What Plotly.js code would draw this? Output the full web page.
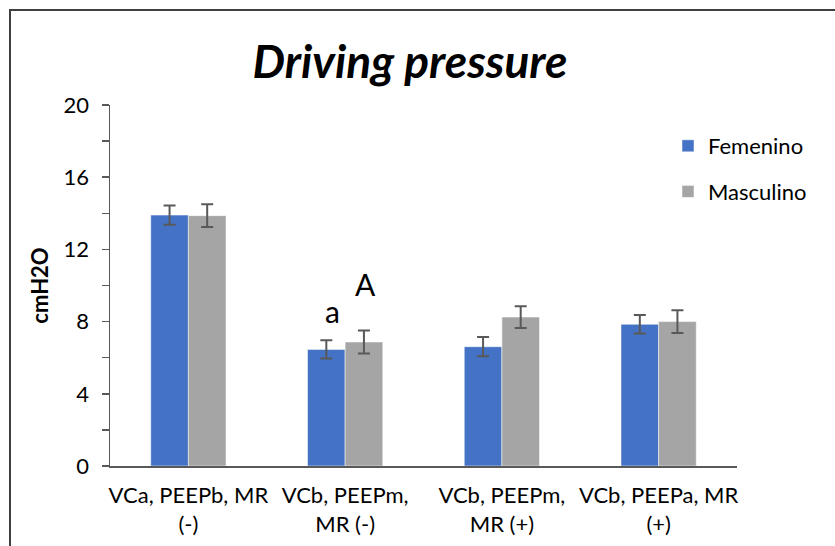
<!DOCTYPE html>
<html>
<head>
<meta charset="utf-8">
<script src="https://cdn.plot.ly/plotly-3.0.1.min.js"></script>
<style>
  html, body { margin: 0; padding: 0; background: #ffffff; }
  #chart { width: 835px; height: 546px; }
</style>
</head>
<body>
<div id="chart"></div>
<script>
const categories = [
  "VCa, PEEPb, MR<br>(-)",
  "VCb, PEEPm,<br>MR (-)",
  "VCb, PEEPm,<br>MR (+)",
  "VCb, PEEPa, MR<br>(+)"
];
const femenino = [13.9, 6.46, 6.61, 7.85];
const femeninoErr = [0.53, 0.5, 0.53, 0.51];
const masculino = [13.87, 6.87, 8.25, 8.0];
const masculinoErr = [0.63, 0.64, 0.6, 0.63];
const yTicks = [0, 4, 8, 12, 16, 20];
const letters = [
  { cat: 1, series: 0, text: "a", y: 8.6 },
  { cat: 1, series: 1, text: "A", y: 10.1 }
];

const FONT = "Lato, 'Open Sans', sans-serif";
const errStyle = { type: "data", visible: true, color: "#595959", thickness: 2, width: 6 };

const traces = [
  {
    type: "bar", name: "Femenino", x: categories, y: femenino,
    marker: { color: "#4472C4", line: { color: "#ffffff", width: 0.5 } },
    error_y: Object.assign({ array: femeninoErr }, errStyle),
    legendgroup: "f"
  },
  {
    type: "bar", name: "Masculino", x: categories, y: masculino,
    marker: { color: "#A5A5A5", line: { color: "#ffffff", width: 0.5 } },
    error_y: Object.assign({ array: masculinoErr }, errStyle),
    legendgroup: "m"
  }
];

const L = 110, R = 98, T = 105, B = 80;
const W = 835 - L - R, H = 546 - T - B;
const px2x = p => (p - L) / W;
const px2y = p => (546 - B - p) / H;

const annotations = letters.map(a => ({
  x: a.cat, y: a.y, xref: "x", yref: "y",
  text: a.text, showarrow: false,
  xshift: a.series === 0 ? -13 : 20,
  font: { family: FONT, size: 30, color: "#000000" }
}));

const layout = {
  width: 835, height: 546,
  margin: { l: L, r: R, t: T, b: B },
  paper_bgcolor: "#ffffff", plot_bgcolor: "#ffffff",
  font: { family: FONT, size: 22, color: "#000000" },
  title: {
    text: "<b><i>Driving pressure</i></b>",
    font: { family: FONT, size: 46, color: "#000000" },
    xref: "container", x: 410 / 835, xanchor: "center",
    yref: "container", y: 1 - 62 / 546, yanchor: "middle"
  },
  barmode: "group", bargap: 0.52, bargroupgap: 0,
  xaxis: {
    type: "category",
    showline: true, linecolor: "#595959", linewidth: 1.5,
    ticks: "", showgrid: false, zeroline: false,
    ticklabelstandoff: 9,
    tickfont: { family: FONT, size: 22, color: "#000000" },
    fixedrange: true
  },
  yaxis: {
    range: [0, 20], tickvals: yTicks, ticktext: yTicks.map(String),
    showline: true, linecolor: "#595959", linewidth: 1.5,
    ticks: "outside", ticklen: 7, tickwidth: 1.5, tickcolor: "#595959",
    minor: { dtick: 2, ticks: "outside", ticklen: 7, tickwidth: 1.5, tickcolor: "#595959" },
    showgrid: false, zeroline: false,
    ticklabelstandoff: 8,
    tickfont: { family: FONT, size: 22, color: "#000000" },
    title: { text: "<b>cmH2O</b>", font: { family: FONT, size: 22, color: "#000000" }, standoff: 9 },
    fixedrange: true
  },
  legend: {
    x: px2x(668), xanchor: "left", y: px2y(125), yanchor: "top",
    font: { family: FONT, size: 22, color: "#000000" },
    bgcolor: "rgba(0,0,0,0)", tracegroupgap: 14, itemclick: false
  },
  showlegend: true,
  annotations: annotations,
  shapes: [
    { type: "line", xref: "paper", yref: "paper",
      x0: px2x(10), x1: px2x(10), y0: px2y(10), y1: px2y(560),
      line: { color: "#404040", width: 2 } },
    { type: "line", xref: "paper", yref: "paper",
      x0: px2x(9), x1: px2x(850), y0: px2y(10), y1: px2y(10),
      line: { color: "#404040", width: 2 } }
  ]
};

Plotly.newPlot("chart", traces, layout, { displayModeBar: false, staticPlot: true });
</script>
</body>
</html>
